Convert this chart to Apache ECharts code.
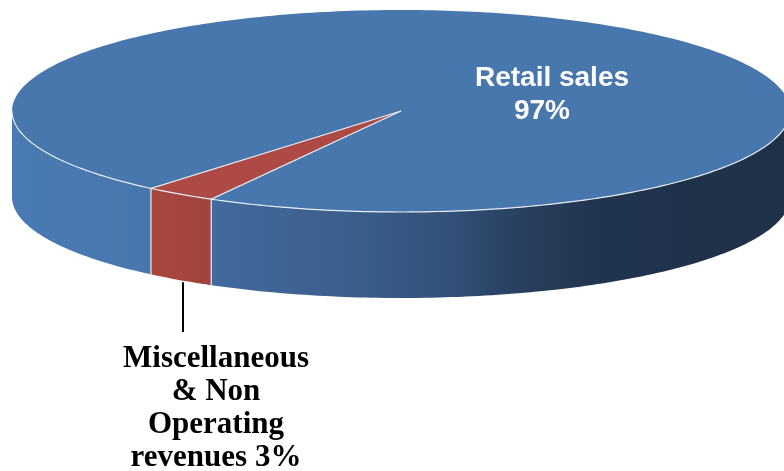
<!DOCTYPE html>
<html>
<head>
<meta charset="utf-8">
<script src="https://cdn.jsdelivr.net/npm/echarts@6/dist/echarts.min.js"></script>
<style>
  html, body { margin: 0; padding: 0; background: #ffffff; }
  #chart { width: 784px; height: 471px; }
</style>
</head>
<body>
<div id="chart"></div>
<script>
// data
var categories = ['Retail sales', 'Miscellaneous\n& Non\nOperating\nrevenues'];
var values = [97, 3];
var labelSep = ['\n', ' '];
var topColors = ['#4877ae', '#ad4a45'];

var dom = document.getElementById('chart');
var myChart = echarts.init(dom);

// look of the 3d disc
var cx = 401, cy = 111, rx = 389, ry = 101, depth = 86;
var startAngle = 130; // degrees, clockwise on screen

var total = values.reduce(function (a, b) { return a + b; }, 0);
var angles = [];
var acc = startAngle;
values.forEach(function (v) {
  var span = v / total * 360;
  angles.push([acc, acc + span]);
  acc += span;
});

function pt(deg, dy) {
  var r = deg * Math.PI / 180;
  return [cx + rx * Math.cos(r), cy + ry * Math.sin(r) + (dy || 0)];
}
function arc(a0, a1, dy) {
  var pts = [];
  var n = Math.max(2, Math.ceil(Math.abs(a1 - a0)));
  for (var i = 0; i <= n; i++) pts.push(pt(a0 + (a1 - a0) * i / n, dy));
  return pts;
}
// parts of [a0,a1] that face the viewer (lower half of the ellipse)
function frontParts(a0, a1) {
  var out = [];
  for (var k = -1; k <= 2; k++) {
    var s = Math.max(a0, k * 360), e = Math.min(a1, k * 360 + 180);
    if (e > s) out.push([s, e]);
  }
  return out;
}
function inFront(a) {
  var m = ((a % 360) + 360) % 360;
  return m > 0 && m < 180;
}

var blueSide = new echarts.graphic.LinearGradient(12, 0, 790, 0, [
  { offset: 0, color: '#4a7ab2' },
  { offset: 0.18, color: '#4877ae' },
  { offset: 0.27, color: '#42699c' },
  { offset: 0.43, color: '#3b5f8c' },
  { offset: 0.56, color: '#33517a' },
  { offset: 0.65, color: '#29405f' },
  { offset: 0.76, color: '#21344e' },
  { offset: 1, color: '#1f3047' }
], true);
var redSide = new echarts.graphic.LinearGradient(150, 0, 218, 0, [
  { offset: 0, color: '#a8473f' },
  { offset: 1, color: '#a0433e' }
], true);
var sideColors = [blueSide, redSide];
var edge = { stroke: '#e6edf4', lineWidth: 1.2, fill: null };

var option = {
  backgroundColor: '#ffffff',
  animation: false,
  series: [{
    type: 'custom',
    coordinateSystem: 'none',
    data: values.map(function (v, i) { return [v, i]; }),
    renderItem: function (params, api) {
      var i = params.dataIndex;
      var a0 = angles[i][0], a1 = angles[i][1];
      var children = [];
      frontParts(a0, a1).forEach(function (p) {
        var top = arc(p[0], p[1], 0);
        var bottom = arc(p[1], p[0], depth);
        children.push({
          type: 'polygon', z2: 1,
          shape: { points: top.concat(bottom) },
          style: { fill: sideColors[i], stroke: null }
        });
        // light rim along the front of the top face
        children.push({
          type: 'polyline', z2: 3,
          shape: { points: top },
          style: edge
        });
      });
      // top face
      children.push({
        type: 'polygon', z2: 2,
        shape: { points: [[cx, cy]].concat(arc(a0, a1, 0)) },
        style: { fill: topColors[i], stroke: null }
      });
      // white edges where the slices meet
      if (inFront(a0)) {
        children.push({
          type: 'polyline', z2: 3,
          shape: { points: [[cx, cy], pt(a0, 0), pt(a0, depth)] },
          style: edge
        });
      }
      var pct = Math.round(api.value(0) / total * 100) + '%';
      if (i === 0) {
        children.push({
          type: 'text', z2: 5,
          style: { text: categories[i], x: 552, y: 78, fill: '#ffffff',
            font: 'bold 28px "Liberation Sans", Arial, sans-serif',
            align: 'center', verticalAlign: 'middle' }
        });
        children.push({
          type: 'text', z2: 5,
          style: { text: pct, x: 542, y: 111, fill: '#ffffff',
            font: 'bold 28px "Liberation Sans", Arial, sans-serif',
            align: 'center', verticalAlign: 'middle' }
        });
      } else {
        var mid = (a0 + a1) / 2;
        var b = pt(mid, depth);
        children.push({
          type: 'polyline', z2: 4,
          shape: { points: [[183, b[1] + 2], [183, 332]] },
          style: { stroke: '#000000', lineWidth: 2, fill: null }
        });
        children.push({
          type: 'text', z2: 5,
          style: { text: categories[i] + labelSep[i] + pct, x: 216, y: 408,
            fill: '#000000', lineHeight: 33,
            font: 'bold 31px "Liberation Serif", "Times New Roman", serif',
            align: 'center', verticalAlign: 'middle' }
        });
      }
      return { type: 'group', children: children };
    }
  }]
};

if (option && typeof option === 'object') {
  myChart.setOption(option);
}

window.onresize = function () {
  myChart.resize();
};
</script>
</body>
</html>
